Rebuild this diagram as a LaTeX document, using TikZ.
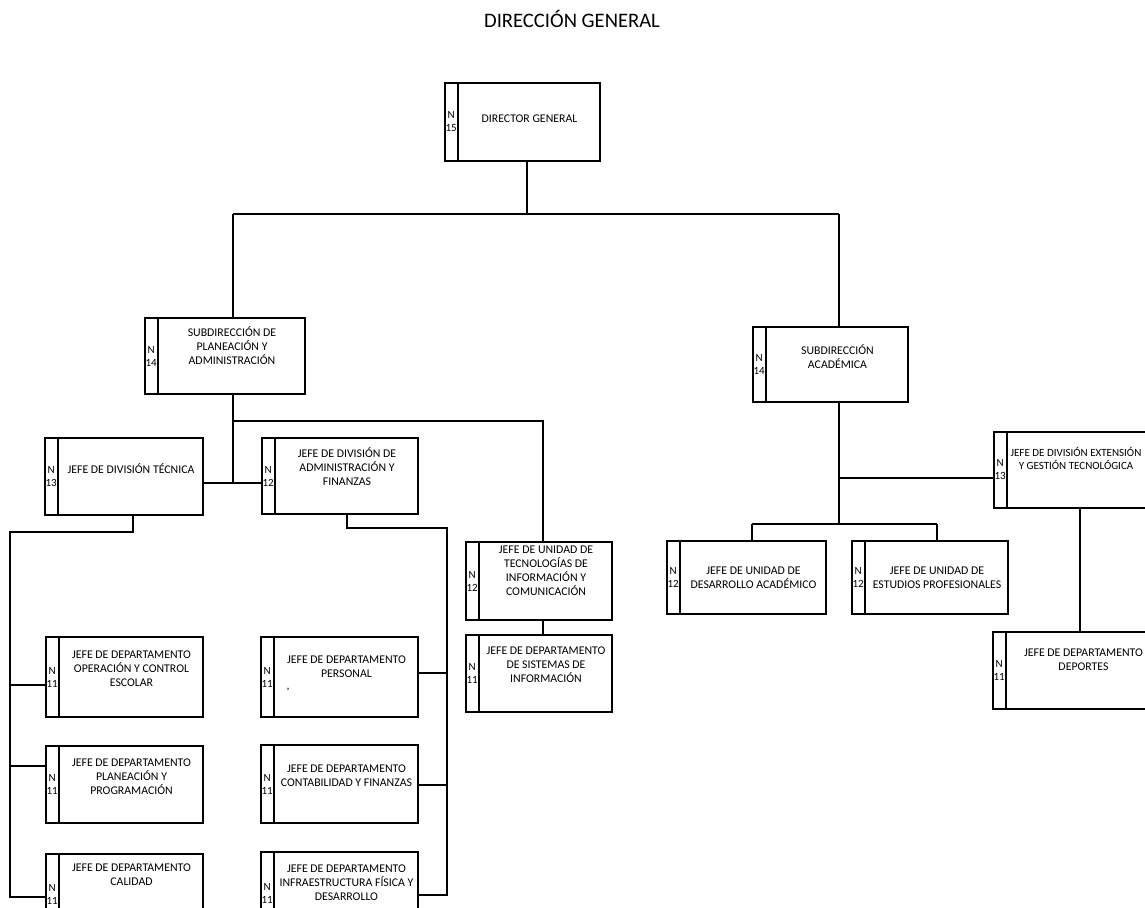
\documentclass[tikz,border=0pt]{standalone}
\usepackage{fontspec}
\setmainfont{Carlito}
\usetikzlibrary{calc}
\tikzset{
  box/.style={draw=black, line width=1.8pt, rectangle, inner sep=0pt, fill=white},
  conn/.style={draw=black, line width=1.5pt},
  strip/.style={draw=black, line width=1.3pt},
  txt/.style={align=center, font=\fontsize{11.8}{14}\selectfont, inner sep=0pt, text=black},
  nlab/.style={align=center, font=\fontsize{11}{13}\selectfont, inner sep=0pt, text=black},
}
\newcommand\obox[8]{%
  \node[box, minimum width={(#4-#2)*1pt}, minimum height={(#5-#3)*1pt}] (#1) at ({(#2+#4)/2},{(#3+#5)/2}) {};
  \draw[strip] ($(#1.north west)+(14,0)$) -- ($(#1.south west)+(14,0)$);
  \node[nlab] (#1-n) at ($(#1.west)+(7,0)$) {N\\#6};
  \node[txt] (#1-t) at ({(#2+14+#4)/2},#8) {#7};
}
\begin{document}
\begin{tikzpicture}[x={(1pt,0)}, y={(0,-1pt)}]
\useasboundingbox (0,0) rectangle (1145,907);
\clip (0,0) rectangle (1145,907);
\fill[white] (0,0) rectangle (1145,907);

\node[font=\fontsize{20.6}{24}\selectfont, text=black] (title) at (572,19) {DIRECCIÓN GENERAL};

% boxes
\obox{dg}{445}{83}{600}{161}{15}{DIRECTOR GENERAL}{119}
\obox{sp}{145}{318}{305}{394}{14}{SUBDIRECCIÓN DE\\PLANEACIÓN Y\\ADMINISTRACIÓN}{346}
\obox{sa}{753}{327}{908}{402}{14}{SUBDIRECCIÓN\\ACADÉMICA}{357}
\obox{dt}{45}{438}{203}{515}{13}{JEFE DE DIVISIÓN TÉCNICA}{469}
\obox{da}{262}{438}{418}{514}{12}{JEFE DE DIVISIÓN DE\\ADMINISTRACIÓN Y\\FINANZAS}{467}
\obox{tu}{466}{542}{612}{620}{12}{JEFE DE UNIDAD DE\\TECNOLOGÍAS DE\\INFORMACIÓN Y\\COMUNICACIÓN}{571}
\obox{ds}{466}{635}{612}{712}{11}{JEFE DE DEPARTAMENTO\\DE SISTEMAS DE\\INFORMACIÓN}{665}
\obox{ud}{667}{541}{826}{614}{12}{JEFE DE UNIDAD DE\\DESARROLLO ACADÉMICO}{578}
\obox{ue}{852}{541}{1008}{614}{12}{JEFE DE UNIDAD DE\\ESTUDIOS PROFESIONALES}{578}
\obox{ex}{994}{432}{1166}{508}{13}{}{458}
\node[txt, font=\fontsize{11}{13}\selectfont] (ex-t2) at (1076,458) {JEFE DE DIVISIÓN EXTENSIÓN\\Y GESTIÓN TECNOLÓGICA};
\obox{dep}{993}{632}{1160}{709}{11}{JEFE DE DEPARTAMENTO\\DEPORTES}{660}
\obox{op}{46}{637}{203}{717}{11}{JEFE DE DEPARTAMENTO\\OPERACIÓN Y CONTROL\\ESCOLAR}{669}
\obox{pl}{46}{746}{203}{823}{11}{JEFE DE DEPARTAMENTO\\PLANEACIÓN Y\\PROGRAMACIÓN}{777}
\obox{ca}{46}{854}{203}{935}{11}{JEFE DE DEPARTAMENTO\\CALIDAD}{875}
\obox{pe}{261}{637}{418}{717}{11}{JEFE DE DEPARTAMENTO\\PERSONAL}{667}
\obox{co}{261}{745}{418}{823}{11}{JEFE DE DEPARTAMENTO\\CONTABILIDAD Y FINANZAS}{776}
\obox{inf}{261}{852}{418}{935}{11}{JEFE DE DEPARTAMENTO\\INFRAESTRUCTURA FÍSICA Y\\DESARROLLO}{883}
\node[txt] (pe-mark) at (288,690) {,};

% top level
\coordinate (top) at (527,214);
\coordinate (tl) at (233,214);
\coordinate (tr) at (839,214);
\draw[conn] (dg.south -| top) -- (top);
\draw[conn] (tl) -- (tr);
\draw[conn] (tl) -- (sp.north -| tl);
\draw[conn] (tr) -- (sa.north -| tr);

% planning branch
\coordinate (a1) at (233,483);
\coordinate (a2) at (233,421);
\coordinate (a3) at (543,421);
\draw[conn] (sp.south -| a1) -- (a1);
\draw[conn] (dt.east |- a1) -- (da.west |- a1);
\draw[conn] (a2) -- (a3) -- (tu.north -| a3);
\draw[conn] (tu.south -| a3) -- (ds.north -| a3);

% tecnica bus
\coordinate (b1) at (133,532);
\coordinate (b2) at (10,532);
\coordinate (b3) at (10,897);
\coordinate (bo) at (10,685);
\coordinate (bp) at (10,766);
\draw[conn] (dt.south -| b1) -- (b1) -- (b2) -- (b3) -- (ca.west |- b3);
\draw[conn] (bo) -- (op.west |- bo);
\draw[conn] (bp) -- (pl.west |- bp);

% administracion bus
\coordinate (c1) at (347,528);
\coordinate (c2) at (447,528);
\coordinate (c3) at (447,895);
\coordinate (cp) at (447,673);
\coordinate (cc) at (447,785);
\draw[conn] (da.south -| c1) -- (c1) -- (c2) -- (c3) -- (inf.east |- c3);
\draw[conn] (cp) -- (pe.east |- cp);
\draw[conn] (cc) -- (co.east |- cc);

% academic branch
\coordinate (r1) at (839,478);
\coordinate (r2) at (839,524);
\coordinate (r3) at (752,524);
\coordinate (r4) at (937,524);
\coordinate (r5) at (1080,600);
\draw[conn] (sa.south -| r2) -- (r2);
\draw[conn] (r1) -- (ex.west |- r1);
\draw[conn] (r3) -- (r4);
\draw[conn] (r3) -- (ud.north -| r3);
\draw[conn] (r4) -- (ue.north -| r4);
\draw[conn] (ex.south -| r5) -- (dep.north -| r5);
\end{tikzpicture}
\end{document}
